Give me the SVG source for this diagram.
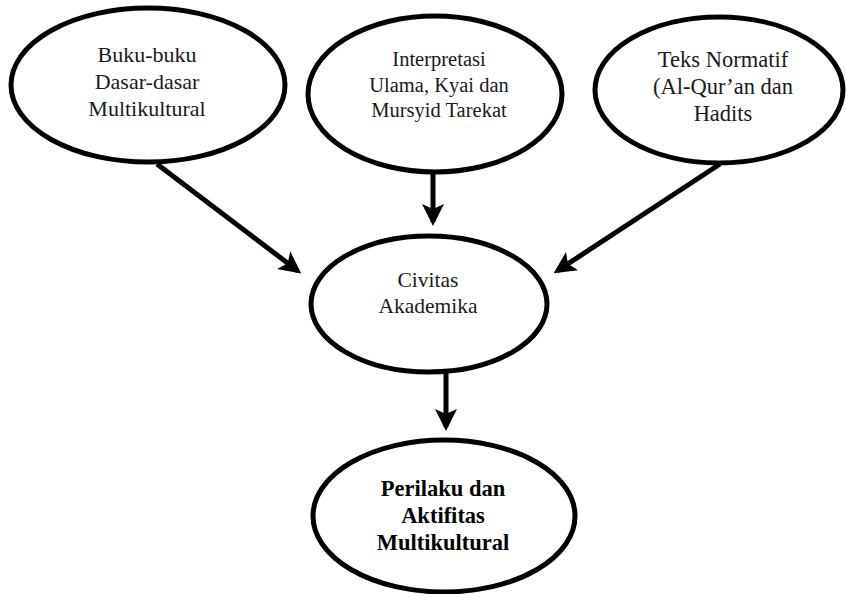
<svg xmlns="http://www.w3.org/2000/svg" width="846" height="594" viewBox="0 0 846 594" font-family="'Liberation Serif', 'Times New Roman', 'DejaVu Serif', serif">
<style>
.node ellipse{fill:#fff;stroke:#000;stroke-width:5}
text{font-family:'Liberation Serif','Times New Roman','DejaVu Serif',serif;fill:#1a1a1a;text-anchor:middle}
.tl{font-size:22px}
.tm{font-size:20.5px}
.tr{font-size:22.5px}
.tc{font-size:21.5px}
.b{font-size:22.5px;font-weight:bold;fill:#000}
.edge{stroke:#000;stroke-width:5;fill:none;marker-end:url(#ah)}
</style>
<defs>
<marker id="ah" markerWidth="4.4" markerHeight="4.4" refX="3.6" refY="2.2" orient="auto" markerUnits="strokeWidth">
<path d="M0,0 L4.4,2.2 L0,4.4 L1,2.2 Z" fill="#000"/>
</marker>
</defs>
<g id="connectors">
<line class="edge" x1="157" y1="164" x2="298" y2="271"/>
<line class="edge" x1="433" y1="172" x2="433" y2="222"/>
<line class="edge" x1="720" y1="164" x2="557" y2="271"/>
<line class="edge" x1="446" y1="372" x2="446" y2="427"/>
</g>
<g id="n1" class="node">
<ellipse cx="148" cy="85" rx="137" ry="77"/>
<text class="tl" x="147" y="62">Buku-buku</text>
<text class="tl" x="147" y="89">Dasar-dasar</text>
<text class="tl" x="147" y="116">Multikultural</text>
</g>
<g id="n2" class="node">
<ellipse cx="435" cy="94" rx="127" ry="78"/>
<text class="tm" x="439" y="66">Interpretasi</text>
<text class="tm" x="439" y="92">Ulama, Kyai dan</text>
<text class="tm" x="439" y="117">Mursyid Tarekat</text>
</g>
<g id="n3" class="node">
<ellipse cx="719" cy="90" rx="124" ry="73"/>
<text class="tr" x="723" y="67">Teks Normatif</text>
<text class="tr" x="723" y="94">(Al-Qur’an dan</text>
<text class="tr" x="723" y="121">Hadits</text>
</g>
<g id="n4" class="node">
<ellipse cx="429" cy="304" rx="118" ry="68"/>
<text class="tc" x="428" y="287">Civitas</text>
<text class="tc" x="428" y="313">Akademika</text>
</g>
<g id="n5" class="node">
<ellipse cx="444" cy="516" rx="131" ry="76"/>
<text class="b" x="443" y="496">Perilaku dan</text>
<text class="b" x="443" y="523">Aktifitas</text>
<text class="b" x="443" y="550">Multikultural</text>
</g>
</svg>
